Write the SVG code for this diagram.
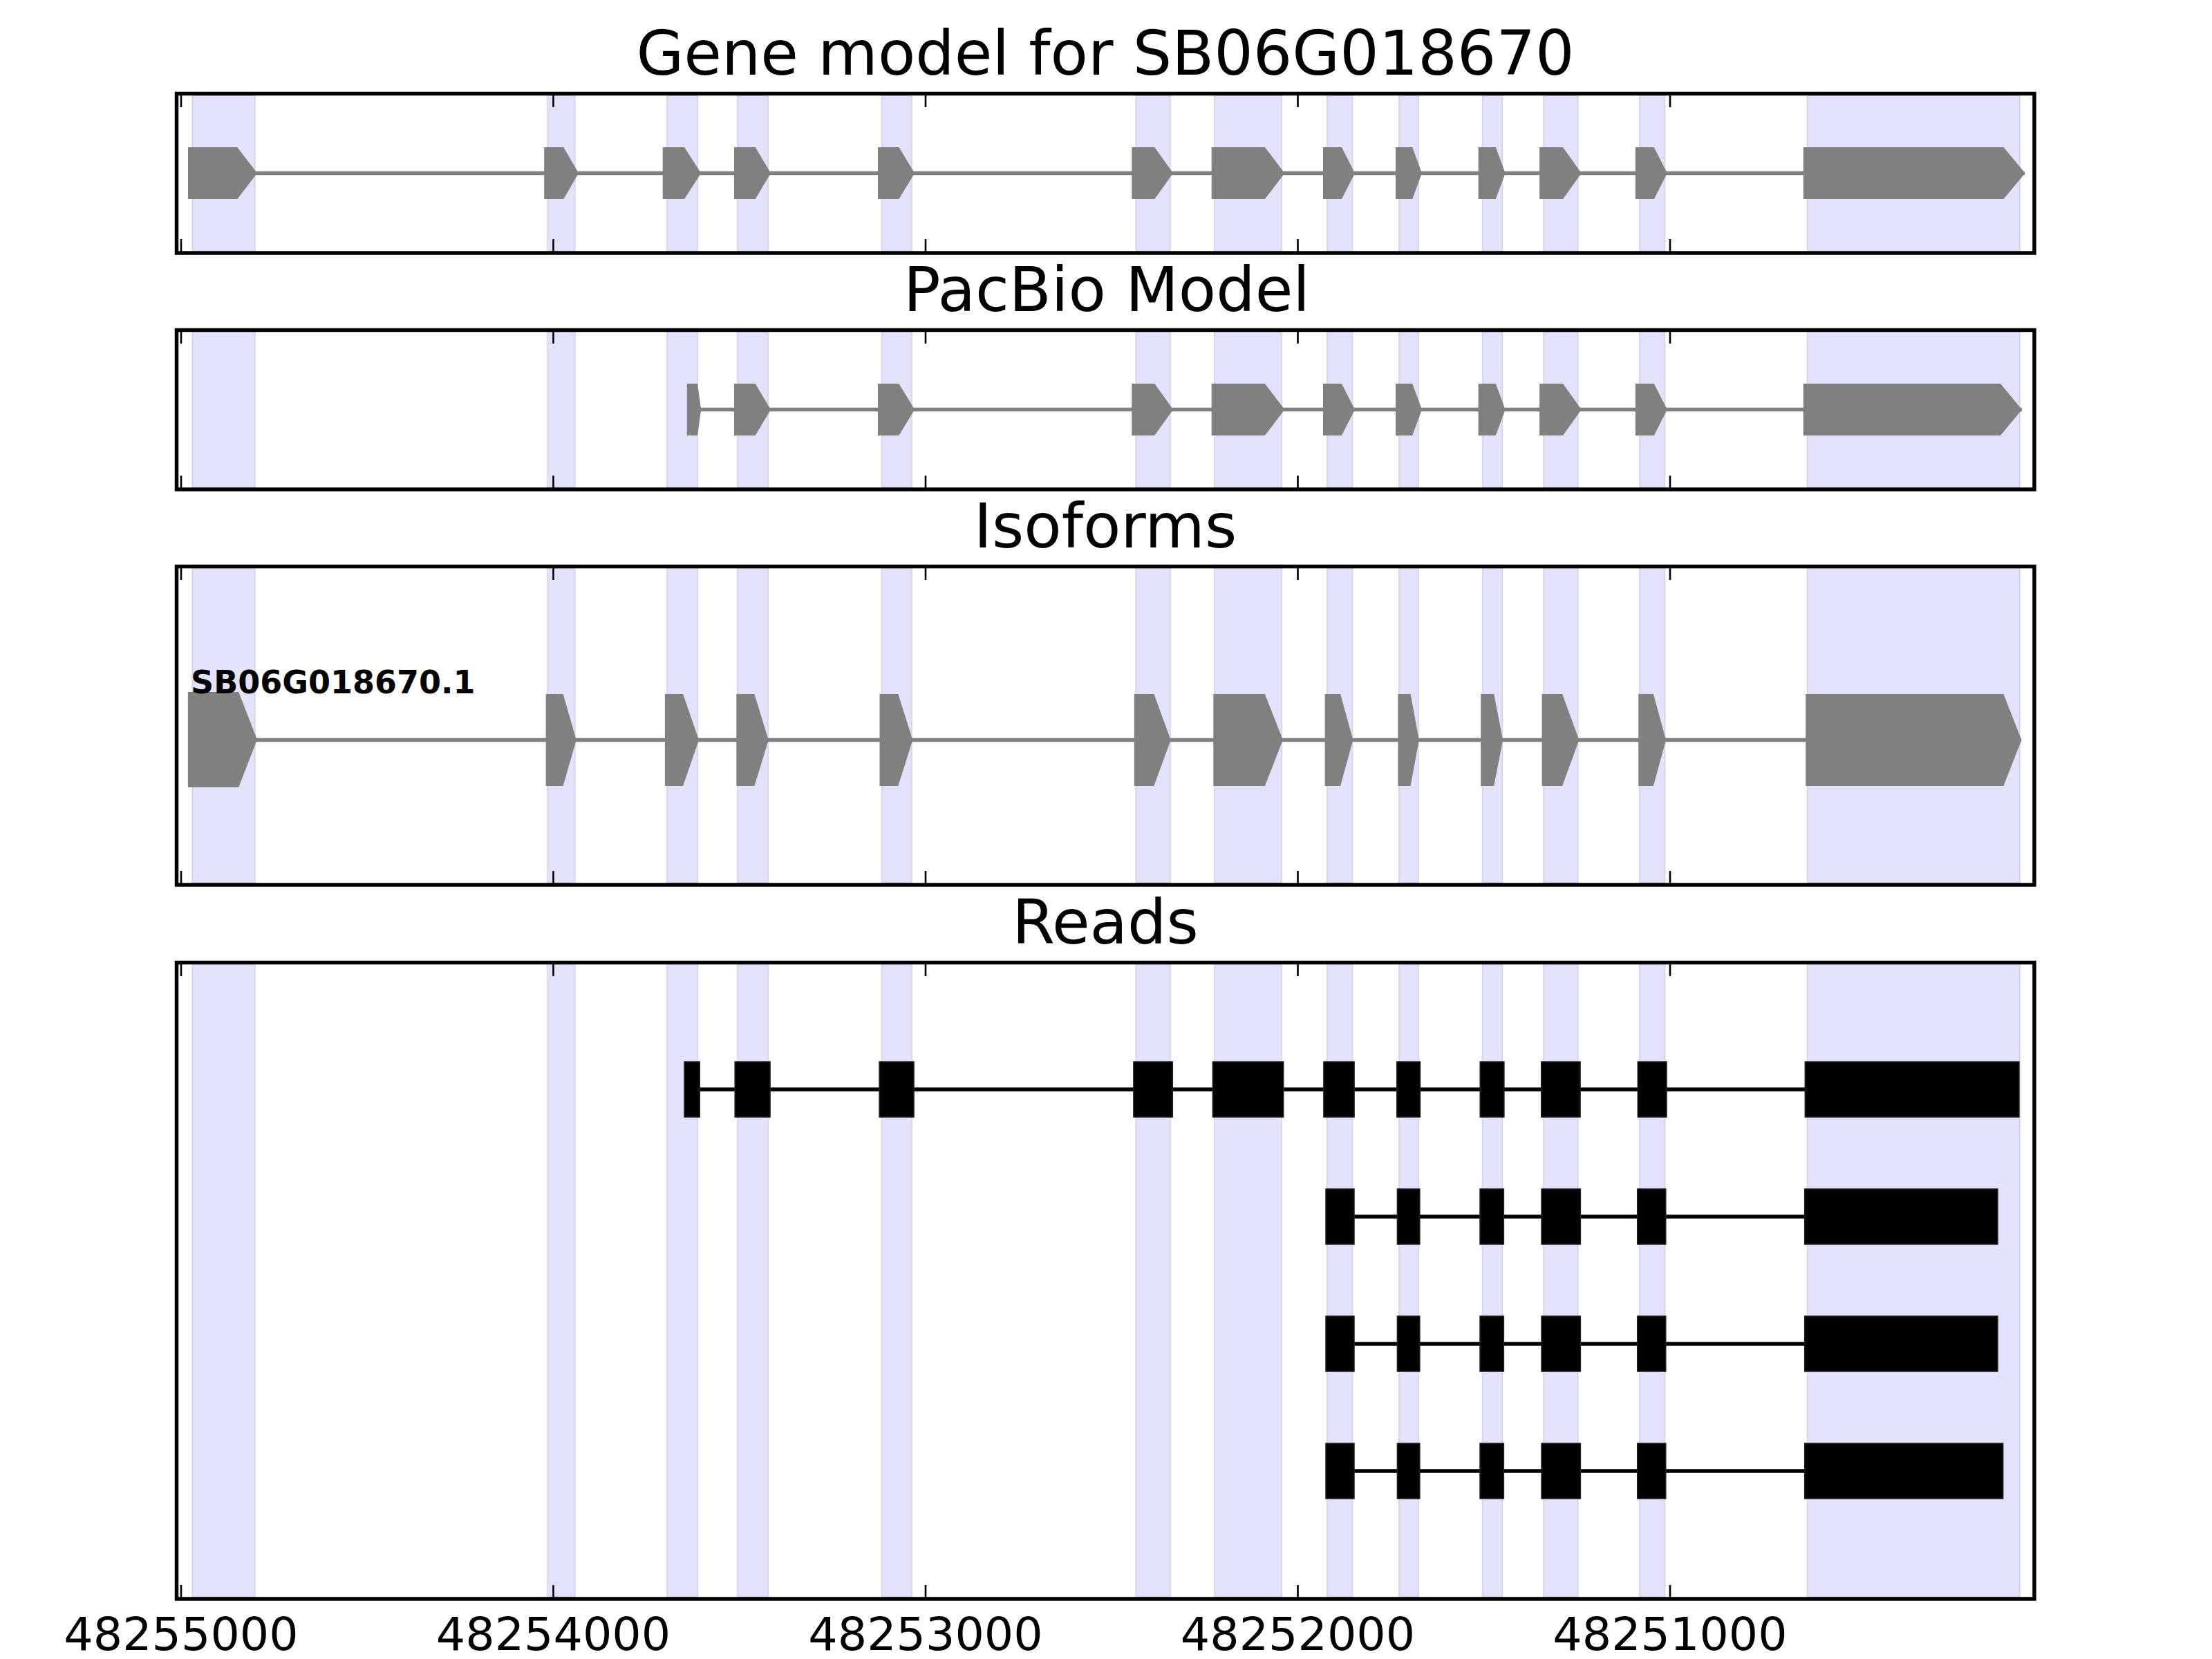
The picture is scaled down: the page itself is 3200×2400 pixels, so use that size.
<svg xmlns="http://www.w3.org/2000/svg" width="3200" height="2400" viewBox="0 0 3200 2400">
<style>
.bg{fill:#ffffff}
.band{fill:#e2e2fa;stroke:#d6d6ea;stroke-width:2}
.frame{fill:none;stroke:#000000;stroke-width:5.5}
.tick{stroke:#000000;stroke-width:2.6}
.intron{stroke:#808080;stroke-width:5.5;fill:none}
.exon{fill:#808080}
.rline{stroke:#000000;stroke-width:5.5}
.rex{fill:#000000;stroke:#222222;stroke-width:1.5}
.title{font-family:"DejaVu Sans","Liberation Sans",sans-serif;font-size:88.9px;text-anchor:middle;fill:#000}
.ticklab{font-family:"DejaVu Sans","Liberation Sans",sans-serif;font-size:66.7px;text-anchor:middle;fill:#000}
.iso{font-family:"DejaVu Sans","Liberation Sans",sans-serif;font-size:46px;font-weight:bold;fill:#000}
</style>
<rect class="bg" x="0" y="0" width="3200" height="2400"/>

<!-- Panel 1: Gene model -->
<g id="panel-gene-model">
<g class="band">
<rect x="278.3" y="138" width="90.5" height="225"/>
<rect x="792.3" y="138" width="39.5" height="225"/>
<rect x="965.1" y="138" width="44" height="225"/>
<rect x="1067.2" y="138" width="44" height="225"/>
<rect x="1275.7" y="138" width="43.2" height="225"/>
<rect x="1643.4" y="138" width="49.4" height="225"/>
<rect x="1757" y="138" width="97.1" height="225"/>
<rect x="1920" y="138" width="36.5" height="225"/>
<rect x="2024.1" y="138" width="27.8" height="225"/>
<rect x="2144.7" y="138" width="28.6" height="225"/>
<rect x="2233.2" y="138" width="49.4" height="225"/>
<rect x="2372" y="138" width="36.4" height="225"/>
<rect x="2614.8" y="138" width="307.1" height="225"/>
</g>
<line class="intron" x1="272" y1="250.5" x2="2929" y2="250.5"/>
<g class="exon">
<polygon points="272,213 343.3,213 372,250.5 343.3,288 272,288"/>
<polygon points="787.2,213 815.3,213 837,250.5 815.3,288 787.2,288"/>
<polygon points="958.7,213 990,213 1014.2,250.5 990,288 958.7,288"/>
<polygon points="1062,213 1092.7,213 1115,250.5 1092.7,288 1062,288"/>
<polygon points="1270,213 1300.4,213 1323.2,250.5 1300.4,288 1270,288"/>
<polygon points="1637.3,213 1670.3,213 1697.1,250.5 1670.3,288 1637.3,288"/>
<polygon points="1752.7,213 1829.9,213 1858.5,250.5 1829.9,288 1752.7,288"/>
<polygon points="1914,213 1940.9,213 1960,250.5 1940.9,288 1914,288"/>
<polygon points="2019,213 2043.2,213 2057.1,250.5 2043.2,288 2019,288"/>
<polygon points="2138.6,213 2163.8,213 2177.7,250.5 2163.8,288 2138.6,288"/>
<polygon points="2227.1,213 2261,213 2287.8,250.5 2261,288 2227.1,288"/>
<polygon points="2365.9,213 2392.8,213 2411.9,250.5 2392.8,288 2365.9,288"/>
<polygon points="2608.8,213 2898.4,213 2929.7,250.5 2898.4,288 2608.8,288"/>
</g>
<g class="tick">
<line x1="262" y1="135" x2="262" y2="155"/><line x1="800.5" y1="135" x2="800.5" y2="155"/><line x1="1339" y1="135" x2="1339" y2="155"/><line x1="1877.5" y1="135" x2="1877.5" y2="155"/><line x1="2416" y1="135" x2="2416" y2="155"/>
<line x1="262" y1="366" x2="262" y2="346"/><line x1="800.5" y1="366" x2="800.5" y2="346"/><line x1="1339" y1="366" x2="1339" y2="346"/><line x1="1877.5" y1="366" x2="1877.5" y2="346"/><line x1="2416" y1="366" x2="2416" y2="346"/>
</g>
<rect class="frame" x="255.5" y="135.5" width="2687.5" height="230.5"/>
<text class="title" x="1599" y="108">Gene model for SB06G018670</text>
</g>

<!-- Panel 2: PacBio Model -->
<g id="panel-pacbio">
<g class="band">
<rect x="278.3" y="480" width="90.5" height="225"/>
<rect x="792.3" y="480" width="39.5" height="225"/>
<rect x="965.1" y="480" width="44" height="225"/>
<rect x="1067.2" y="480" width="44" height="225"/>
<rect x="1275.7" y="480" width="43.2" height="225"/>
<rect x="1643.4" y="480" width="49.4" height="225"/>
<rect x="1757" y="480" width="97.1" height="225"/>
<rect x="1920" y="480" width="36.5" height="225"/>
<rect x="2024.1" y="480" width="27.8" height="225"/>
<rect x="2144.7" y="480" width="28.6" height="225"/>
<rect x="2233.2" y="480" width="49.4" height="225"/>
<rect x="2372" y="480" width="36.4" height="225"/>
<rect x="2614.8" y="480" width="307.1" height="225"/>
</g>
<line class="intron" x1="994" y1="592.5" x2="2925" y2="592.5"/>
<g class="exon">
<polygon points="993.8,555 1009.1,555 1014.2,592.5 1009.1,630 993.8,630"/>
<polygon points="1062,555 1092.7,555 1115,592.5 1092.7,630 1062,630"/>
<polygon points="1270,555 1300.4,555 1323.2,592.5 1300.4,630 1270,630"/>
<polygon points="1637.3,555 1670.3,555 1697.1,592.5 1670.3,630 1637.3,630"/>
<polygon points="1752.7,555 1829.9,555 1858.5,592.5 1829.9,630 1752.7,630"/>
<polygon points="1914,555 1940.9,555 1960,592.5 1940.9,630 1914,630"/>
<polygon points="2019,555 2043.2,555 2057.1,592.5 2043.2,630 2019,630"/>
<polygon points="2138.6,555 2163.8,555 2177.7,592.5 2163.8,630 2138.6,630"/>
<polygon points="2227.1,555 2261,555 2287.8,592.5 2261,630 2227.1,630"/>
<polygon points="2365.9,555 2392.8,555 2411.9,592.5 2392.8,630 2365.9,630"/>
<polygon points="2608.8,555 2894,555 2925,592.5 2894,630 2608.8,630"/>
</g>
<g class="tick">
<line x1="262" y1="477" x2="262" y2="497"/><line x1="800.5" y1="477" x2="800.5" y2="497"/><line x1="1339" y1="477" x2="1339" y2="497"/><line x1="1877.5" y1="477" x2="1877.5" y2="497"/><line x1="2416" y1="477" x2="2416" y2="497"/>
<line x1="262" y1="708" x2="262" y2="688"/><line x1="800.5" y1="708" x2="800.5" y2="688"/><line x1="1339" y1="708" x2="1339" y2="688"/><line x1="1877.5" y1="708" x2="1877.5" y2="688"/><line x1="2416" y1="708" x2="2416" y2="688"/>
</g>
<rect class="frame" x="255.5" y="477.5" width="2687.5" height="230.5"/>
<text class="title" x="1601" y="450">PacBio Model</text>
</g>

<!-- Panel 3: Isoforms -->
<g id="panel-isoforms">
<g class="band">
<rect x="278.3" y="822" width="90.5" height="455"/>
<rect x="792.3" y="822" width="39.5" height="455"/>
<rect x="965.1" y="822" width="44" height="455"/>
<rect x="1067.2" y="822" width="44" height="455"/>
<rect x="1275.7" y="822" width="43.2" height="455"/>
<rect x="1643.4" y="822" width="49.4" height="455"/>
<rect x="1757" y="822" width="97.1" height="455"/>
<rect x="1920" y="822" width="36.5" height="455"/>
<rect x="2024.1" y="822" width="27.8" height="455"/>
<rect x="2144.7" y="822" width="28.6" height="455"/>
<rect x="2233.2" y="822" width="49.4" height="455"/>
<rect x="2372" y="822" width="36.4" height="455"/>
<rect x="2614.8" y="822" width="307.1" height="455"/>
</g>
<line class="intron" x1="272" y1="1070.5" x2="2924" y2="1070.5"/>
<g class="exon">
<polygon points="271.9,1001 345.2,1001 372,1070 345.2,1139 271.9,1139"/>
<polygon points="789.7,1004 814.6,1004 833.7,1070.5 814.6,1137 789.7,1137"/>
<polygon points="961.9,1004 988.1,1004 1011,1070.5 988.1,1137 961.9,1137"/>
<polygon points="1065.3,1004 1091.4,1004 1111.8,1070.5 1091.4,1137 1065.3,1137"/>
<polygon points="1272.5,1004 1299.3,1004 1320.4,1070.5 1299.3,1137 1272.5,1137"/>
<polygon points="1640.8,1004 1669.4,1004 1693.7,1070.5 1669.4,1137 1640.8,1137"/>
<polygon points="1755.3,1004 1829.9,1004 1855.9,1070.5 1829.9,1137 1755.3,1137"/>
<polygon points="1916.6,1004 1939.1,1004 1957.4,1070.5 1939.1,1137 1916.6,1137"/>
<polygon points="2022.4,1004 2040.6,1004 2052.8,1070.5 2040.6,1137 2022.4,1137"/>
<polygon points="2142.1,1004 2161.2,1004 2174.2,1070.5 2161.2,1137 2142.1,1137"/>
<polygon points="2230.6,1004 2260.1,1004 2284.4,1070.5 2260.1,1137 2230.6,1137"/>
<polygon points="2370.2,1004 2391.9,1004 2410.1,1070.5 2391.9,1137 2370.2,1137"/>
<polygon points="2612.2,1004 2898.4,1004 2924.5,1070.5 2898.4,1137 2612.2,1137"/>
</g>
<text class="iso" x="276" y="1003">SB06G018670.1</text>
<g class="tick">
<line x1="262" y1="819" x2="262" y2="839"/><line x1="800.5" y1="819" x2="800.5" y2="839"/><line x1="1339" y1="819" x2="1339" y2="839"/><line x1="1877.5" y1="819" x2="1877.5" y2="839"/><line x1="2416" y1="819" x2="2416" y2="839"/>
<line x1="262" y1="1280" x2="262" y2="1260"/><line x1="800.5" y1="1280" x2="800.5" y2="1260"/><line x1="1339" y1="1280" x2="1339" y2="1260"/><line x1="1877.5" y1="1280" x2="1877.5" y2="1260"/><line x1="2416" y1="1280" x2="2416" y2="1260"/>
</g>
<rect class="frame" x="255.5" y="819.5" width="2687.5" height="460.5"/>
<text class="title" x="1599" y="792">Isoforms</text>
</g>

<!-- Panel 4: Reads -->
<g id="panel-reads">
<g class="band">
<rect x="278.3" y="1395" width="90.5" height="915"/>
<rect x="792.3" y="1395" width="39.5" height="915"/>
<rect x="965.1" y="1395" width="44" height="915"/>
<rect x="1067.2" y="1395" width="44" height="915"/>
<rect x="1275.7" y="1395" width="43.2" height="915"/>
<rect x="1643.4" y="1395" width="49.4" height="915"/>
<rect x="1757" y="1395" width="97.1" height="915"/>
<rect x="1920" y="1395" width="36.5" height="915"/>
<rect x="2024.1" y="1395" width="27.8" height="915"/>
<rect x="2144.7" y="1395" width="28.6" height="915"/>
<rect x="2233.2" y="1395" width="49.4" height="915"/>
<rect x="2372" y="1395" width="36.4" height="915"/>
<rect x="2614.8" y="1395" width="307.1" height="915"/>
</g>
<g id="read-1">
<line class="rline" x1="990" y1="1576" x2="2921" y2="1576"/>
<g class="rex">
<rect x="990" y="1536" width="22.3" height="80"/>
<rect x="1063.2" y="1536" width="50.9" height="80"/>
<rect x="1272.1" y="1536" width="50" height="80"/>
<rect x="1639.9" y="1536" width="56.4" height="80"/>
<rect x="1754.4" y="1536" width="102.3" height="80"/>
<rect x="1914.9" y="1536" width="44.2" height="80"/>
<rect x="2020.7" y="1536" width="33.8" height="80"/>
<rect x="2141.2" y="1536" width="34.7" height="80"/>
<rect x="2229.7" y="1536" width="56.4" height="80"/>
<rect x="2369.3" y="1536" width="41.7" height="80"/>
<rect x="2611.3" y="1536" width="309.7" height="80"/>
</g>
</g>
<g id="read-2">
<line class="rline" x1="1918" y1="1760" x2="2890" y2="1760"/>
<g class="rex">
<rect x="1918" y="1720" width="41" height="80"/>
<rect x="2021.4" y="1720" width="32.5" height="80"/>
<rect x="2141" y="1720" width="34.4" height="80"/>
<rect x="2230" y="1720" width="56.4" height="80"/>
<rect x="2368.7" y="1720" width="41.1" height="80"/>
<rect x="2610.7" y="1720" width="279.3" height="80"/>
</g>
</g>
<g id="read-3">
<line class="rline" x1="1918" y1="1944" x2="2890" y2="1944"/>
<g class="rex">
<rect x="1918" y="1904" width="41" height="80"/>
<rect x="2021.4" y="1904" width="32.5" height="80"/>
<rect x="2141" y="1904" width="34.4" height="80"/>
<rect x="2230" y="1904" width="56.4" height="80"/>
<rect x="2368.7" y="1904" width="41.1" height="80"/>
<rect x="2610.7" y="1904" width="279.3" height="80"/>
</g>
</g>
<g id="read-4">
<line class="rline" x1="1918" y1="2128" x2="2897" y2="2128"/>
<g class="rex">
<rect x="1918" y="2088" width="41" height="80"/>
<rect x="2021.4" y="2088" width="32.5" height="80"/>
<rect x="2141" y="2088" width="34.4" height="80"/>
<rect x="2230" y="2088" width="56.4" height="80"/>
<rect x="2368.7" y="2088" width="41.1" height="80"/>
<rect x="2610.7" y="2088" width="287" height="80"/>
</g>
</g>
<g class="tick">
<line x1="262" y1="1392" x2="262" y2="1412"/><line x1="800.5" y1="1392" x2="800.5" y2="1412"/><line x1="1339" y1="1392" x2="1339" y2="1412"/><line x1="1877.5" y1="1392" x2="1877.5" y2="1412"/><line x1="2416" y1="1392" x2="2416" y2="1412"/>
<line x1="262" y1="2313" x2="262" y2="2293"/><line x1="800.5" y1="2313" x2="800.5" y2="2293"/><line x1="1339" y1="2313" x2="1339" y2="2293"/><line x1="1877.5" y1="2313" x2="1877.5" y2="2293"/><line x1="2416" y1="2313" x2="2416" y2="2293"/>
</g>
<rect class="frame" x="255.5" y="1392.5" width="2687.5" height="920.5"/>
<text class="title" x="1599" y="1365">Reads</text>
<g id="x-tick-labels">
<text class="ticklab" x="262" y="2387">48255000</text>
<text class="ticklab" x="800.5" y="2387">48254000</text>
<text class="ticklab" x="1339" y="2387">48253000</text>
<text class="ticklab" x="1877.5" y="2387">48252000</text>
<text class="ticklab" x="2416" y="2387">48251000</text>
</g>
</g>
</svg>
